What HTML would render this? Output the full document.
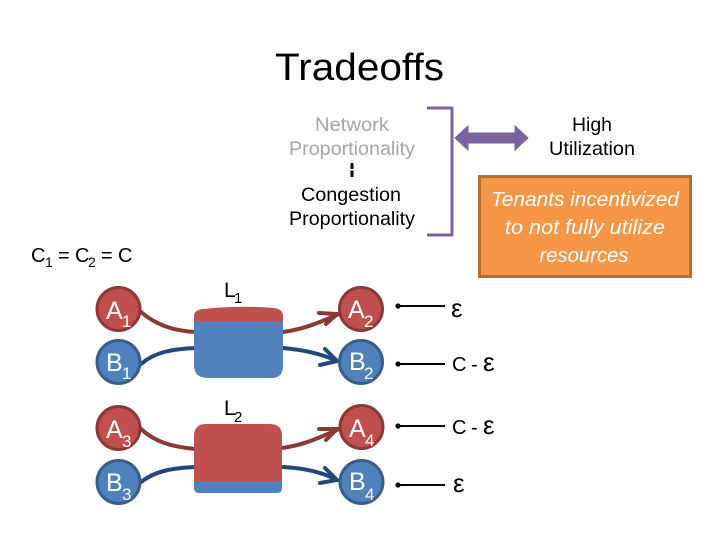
<!DOCTYPE html>
<html><head><meta charset="utf-8"><style>
html,body{margin:0;padding:0;background:#fff;width:720px;height:540px;overflow:hidden}
svg{display:block}
text{font-family:"Liberation Sans",sans-serif}
.w{fill:#fff;font-size:25px}
.ws{fill:#fff;font-size:17px}
.ks{fill:#000;font-size:15px}
.c{fill:#000;font-size:20px}
.cs{fill:#000;font-size:14px}
.e{fill:#000;font-size:26px}
</style></head><body>
<svg width="720" height="540" viewBox="0 0 720 540" xmlns="http://www.w3.org/2000/svg">
<defs>
<marker id="m" markerWidth="4" markerHeight="4" refX="2" refY="2" orient="auto"><circle cx="2" cy="2" r="1.3" fill="#000"/></marker>
</defs>
<text x="275" y="80" font-size="38" textLength="169" lengthAdjust="spacingAndGlyphs" fill="#000">Tradeoffs</text>

<g font-size="19.5" text-anchor="middle">
<text x="352" y="131" fill="#a6a6a6" textLength="74" lengthAdjust="spacingAndGlyphs">Network</text>
<text x="352" y="155" fill="#a6a6a6" textLength="126" lengthAdjust="spacingAndGlyphs">Proportionality</text>
<text x="351" y="201" fill="#000" textLength="100" lengthAdjust="spacingAndGlyphs">Congestion</text>
<text x="352" y="225" fill="#000" textLength="126" lengthAdjust="spacingAndGlyphs">Proportionality</text>
<text x="592" y="131" fill="#000" textLength="40" lengthAdjust="spacingAndGlyphs">High</text>
<text x="592" y="155" fill="#000" textLength="86" lengthAdjust="spacingAndGlyphs">Utilization</text>
</g>
<rect x="350.500" y="163" width="3" height="14" fill="#000"/>
<rect x="350" y="169" width="4" height="1.500" fill="#fff"/>

<path d="M427 108H452V235H427" fill="none" stroke="#7a619f" stroke-width="3" stroke-linejoin="round"/>
<path d="M455 138L468 126V133H515V126L528 138L515 150V143H468V150Z" fill="#7a619f" stroke="#7a619f" stroke-width="1"/>

<rect x="479.500" y="176.500" width="211" height="100" fill="#f79646" stroke="#b66d31" stroke-width="3"/>
<g font-size="20.500" font-style="italic" fill="#fff" text-anchor="middle">
<text x="585" y="206" textLength="188" lengthAdjust="spacingAndGlyphs">Tenants incentivized</text>
<text x="585" y="234" textLength="160" lengthAdjust="spacingAndGlyphs">to not fully utilize</text>
<text x="584" y="262" textLength="89" lengthAdjust="spacingAndGlyphs">resources</text>
</g>

<text x="31" y="262" font-size="20" fill="#000">C</text>
<text class="cs" x="45" y="267">1</text>
<text x="58" y="262" font-size="20" fill="#000">=</text>
<text x="75" y="262" font-size="20" fill="#000">C</text>
<text class="cs" x="88" y="267">2</text>
<text x="101" y="262" font-size="20" fill="#000">=</text>
<text x="118" y="262" font-size="20" fill="#000">C</text>

<!-- connectors -->
<g fill="none" stroke-width="4" stroke-linecap="round">
<path d="M141 312C155 324 172 331 196 332" stroke="#8c3836"/>
<path d="M283 332C305 329 320 322 337 315" stroke="#8c3836"/>
<path d="M319 313L337 314L326 324" stroke="#8c3836"/>
<path d="M141 364C155 352 172 349 196 348" stroke="#1f497d"/>
<path d="M283 348C305 350 322 354 337 361" stroke="#1f497d"/>
<path d="M325 349L337 361L320 365" stroke="#1f497d"/>
<path d="M141 429C155 442 172 447 196 449" stroke="#8c3836"/>
<path d="M282 448C305 445 320 437 337 430" stroke="#8c3836"/>
<path d="M319 429L337 429L326 440" stroke="#8c3836"/>
<path d="M141 482C155 471 172 468 196 467" stroke="#1f497d"/>
<path d="M282 467C305 468 322 472 337 480" stroke="#1f497d"/>
<path d="M325 468L337 480L320 483" stroke="#1f497d"/>
</g>

<!-- link boxes -->
<path d="M194 321V316Q194 310 203 309Q240 305 274 308Q283 309 283 316V321Z" fill="#c0504d"/>
<path d="M194 321H283V366Q283 378 271 378H208Q194 378 194 365Z" fill="#4f81bd"/>
<path d="M194 481V436Q194 424 206 424H270Q282 424 282 436V481Z" fill="#c0504d"/>
<path d="M194 481H282V488Q282 493 277 493H199Q194 493 194 488Z" fill="#4f81bd"/>

<!-- nodes -->
<g stroke-width="3">
<circle cx="118.500" cy="309" r="21.500" fill="#c0504d" stroke="#8c3836"/>
<circle cx="118.500" cy="362" r="21.500" fill="#4f81bd" stroke="#385d8a"/>
<circle cx="361" cy="309" r="21.500" fill="#c0504d" stroke="#8c3836"/>
<circle cx="361" cy="362" r="21.500" fill="#4f81bd" stroke="#385d8a"/>
<circle cx="118.500" cy="428" r="21.500" fill="#c0504d" stroke="#8c3836"/>
<circle cx="118.500" cy="482" r="21.500" fill="#4f81bd" stroke="#385d8a"/>
<circle cx="361.500" cy="427" r="21.500" fill="#c0504d" stroke="#8c3836"/>
<circle cx="361.500" cy="482" r="21.500" fill="#4f81bd" stroke="#385d8a"/>
</g>

<text class="w" x="106" y="319">A</text><text class="ws" x="122" y="327">1</text>
<text class="w" x="106" y="371">B</text><text class="ws" x="122" y="379">1</text>
<text class="w" x="348" y="318">A</text><text class="ws" x="364" y="327">2</text>
<text class="w" x="349" y="370">B</text><text class="ws" x="364" y="379">2</text>
<text class="w" x="106" y="438">A</text><text class="ws" x="122" y="447">3</text>
<text class="w" x="106" y="491">B</text><text class="ws" x="122" y="500">3</text>
<text class="w" x="349" y="437">A</text><text class="ws" x="365" y="446">4</text>
<text class="w" x="349" y="490">B</text><text class="ws" x="365" y="500">4</text>

<text x="224" y="297" font-size="21" fill="#000">L</text><text class="ks" x="234" y="303">1</text>
<text x="224" y="415" font-size="21" fill="#000">L</text><text class="ks" x="234" y="422">2</text>

<!-- capacity annotations -->
<g stroke="#000" stroke-width="2" fill="none">
<path d="M445 306H398" marker-end="url(#m)"/>
<path d="M445 364H398" marker-end="url(#m)"/>
<path d="M445 426H398" marker-end="url(#m)"/>
<path d="M445 485H398" marker-end="url(#m)"/>
</g>
<text class="e" x="451" y="317">ε</text>
<text class="c" x="452" y="371">C</text><text class="c" x="471" y="371">-</text><text class="e" x="483" y="371">ε</text>
<text class="c" x="452" y="434">C</text><text class="c" x="471" y="434">-</text><text class="e" x="483" y="434">ε</text>
<text class="e" x="453" y="492">ε</text>
</svg>
</body></html>
